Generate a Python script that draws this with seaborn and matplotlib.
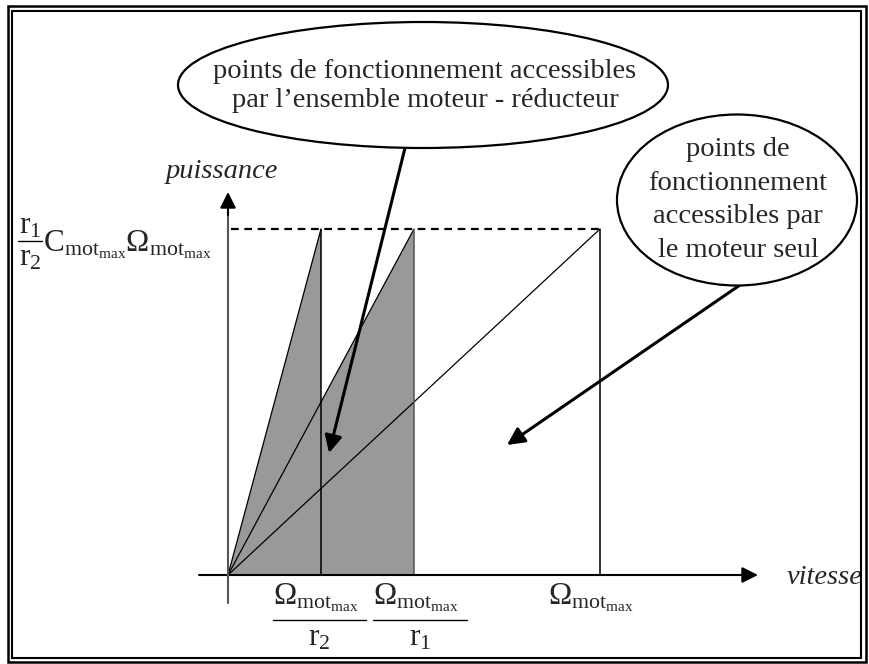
import numpy as np
import pandas as pd
import seaborn as sns
import matplotlib.pyplot as plt
from matplotlib.patches import Ellipse, Rectangle

# speeds (fraction of Omega_mot_max) : Omega/r2, Omega/r1, Omega
speeds = [0.25, 0.5, 1.0]
sub = r'$_{\mathrm{mot}_{\mathrm{max}}}$'
speed_num = ['Ω' + sub, 'Ω' + sub, 'Ω' + sub]
speed_den = [r'r$_2$', r'r$_1$', '']
p_max = 1.0
p_label = 'C' + sub + 'Ω' + sub
bubble_big = "points de fonctionnement accessibles\npar l\u2019ensemble moteur - réducteur"
bubble_small = "points de\nfonctionnement\naccessibles par\nle moteur seul"

sns.set_theme(style="white")
plt.rcParams['font.family'] = ['Liberation Serif', 'DejaVu Serif']
plt.rcParams['mathtext.fontset'] = 'custom'
plt.rcParams['mathtext.rm'] = 'Liberation Serif'
plt.rcParams['mathtext.it'] = 'Liberation Serif:italic'

fig = plt.figure(figsize=(8.7, 6.64), dpi=100)
ax = fig.add_axes([0, 0, 1, 1])
ax.set_xlim(-228 / 372, 642 / 372)
ax.set_ylim(-89 / 346, 575 / 346)
ax.axis('off')

# pixel -> data helper (for annotation placement only)
def P(px, py):
    return (px - 228) / 372, (575 - py) / 346

# shaded zones
for s in speeds[:2]:
    ax.fill([0, s, s], [0, p_max, 0], color='#999999', lw=0, zorder=1)

# rays from origin
rays = pd.DataFrame({
    'speed': [v for s in speeds for v in (0, s)],
    'power': [v for s in speeds for v in (0, p_max)],
    'ray': [i for i in range(len(speeds)) for _ in (0, 1)],
})
sns.lineplot(data=rays, x='speed', y='power', units='ray', estimator=None,
             color='black', lw=0.9, ax=ax, zorder=3, legend=False)

ax.vlines(speeds, 0, p_max, colors=['black', '#555555', 'black'], lw=1.1, zorder=3)
ax.hlines(p_max, P(231, 0)[0], speeds[-1], colors='black', lw=1.6,
          linestyles=(0, (3.5, 2.5)), zorder=3)

# axes with arrows
x0, _ = P(199, 0)
x1, _ = P(758, 0)
ax.annotate('', xy=(x1, 0), xytext=(x0, 0),
            arrowprops=dict(arrowstyle='-|>', color='black', lw=1.5, mutation_scale=24,
                            shrinkA=0, shrinkB=0), zorder=4)
_, y0 = P(0, 603)
_, y1 = P(0, 192)
ax.plot([0, 0], [y0, P(0, 205)[1]], color='#555555', lw=1.5, zorder=4)
ax.annotate('', xy=(0, y1), xytext=(0, P(0, 215)[1]),
            arrowprops=dict(arrowstyle='-|>', color='black', lw=1.5,
                            mutation_scale=24, shrinkA=0, shrinkB=0), zorder=4)

ax.text(*P(222, 172), 'puissance', fontsize=20.5, style='italic', ha='center', va='center')
ax.text(*P(825, 578), 'vitesse', fontsize=20.5, style='italic', ha='center', va='center')

fs_m = 22.5
# power level label: r1/r2 C Omega
ax.text(*P(30, 234), r'r$_1$', fontsize=fs_m, ha='center', va='baseline')
ax.plot([P(18, 0)[0], P(42, 0)[0]], [P(0, 241)[1]] * 2, color='black', lw=1)
ax.text(*P(30, 266), r'r$_2$', fontsize=fs_m, ha='center', va='baseline')
ax.text(*P(43, 251), p_label, fontsize=fs_m, ha='left', va='baseline')

# speed labels
num_x = [273, 373, 548]
bar_w = [93, 94, 0]
for s, num, den, nx, bw in zip(speeds, speed_num, speed_den, num_x, bar_w):
    ax.text(*P(nx, 604), num, fontsize=fs_m, ha='left', va='baseline')
    if den:
        ax.plot([P(nx, 0)[0], P(nx + bw, 0)[0]], [P(0, 620)[1]] * 2, color='black', lw=1)
        ax.text(*P(nx + bw / 2, 645), den, fontsize=fs_m, ha='center', va='baseline')

# bubbles
ax.add_patch(Ellipse(P(423, 85), 490 / 372, 126 / 346, fc='white', ec='black', lw=1.6, zorder=5))
ax.text(*P(425, 86), bubble_big, fontsize=20.5, ha='center', va='center',
        linespacing=1.22, zorder=6)
ax.add_patch(Ellipse(P(737, 200), 240 / 372, 171 / 346, fc='white', ec='black', lw=1.6, zorder=5))
ax.text(*P(738, 200), bubble_small, fontsize=20.5, ha='center', va='center',
        linespacing=1.45, zorder=6)

# pointers
ax.annotate('', xy=P(329, 453), xytext=P(405, 148),
            arrowprops=dict(arrowstyle='-|>', color='black', lw=2.2, mutation_scale=26,
                            shrinkA=0, shrinkB=0), zorder=4)
ax.annotate('', xy=P(507, 445), xytext=P(740, 285),
            arrowprops=dict(arrowstyle='-|>', color='black', lw=2.2, mutation_scale=26,
                            shrinkA=0, shrinkB=0), zorder=4)

# double frame
fig.patches.append(Rectangle((8 / 870, 2 / 664), 858 / 870, 656 / 664, transform=fig.transFigure,
                             fill=False, ec='black', lw=1.8))
fig.patches.append(Rectangle((12.5 / 870, 6 / 664), 849 / 870, 647 / 664, transform=fig.transFigure,
                             fill=False, ec='black', lw=1.5))

fig.savefig('out.png', dpi=100)
